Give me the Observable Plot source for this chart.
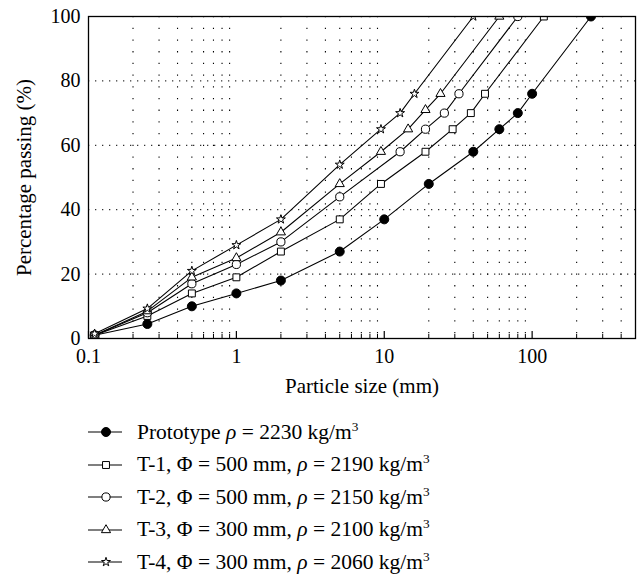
<!DOCTYPE html>
<html><head><meta charset="utf-8">
<script src="https://cdn.jsdelivr.net/npm/d3@7"></script>
<script src="https://cdn.jsdelivr.net/npm/@observablehq/plot@0.6"></script>
<style>
body{margin:0;background:#fff;font-family:"Liberation Serif","Times New Roman",Times,serif;}
#chart svg, #chart svg text{font-family:"Liberation Serif","Times New Roman",Times,serif !important;}
#legend{padding-top:16px;}
.row{display:flex;align-items:center;height:32.5px;margin-left:88px;font-size:21.5px;color:#000;white-space:nowrap;}
.row svg{flex:none;margin-right:15px;}
sup{font-size:0.62em;line-height:0;vertical-align:0.62em;}
</style></head><body><div id="chart"></div><div id="legend"></div>
<script>
// Series
const seriesNames = ["Prototype", "T-1", "T-2", "T-3", "T-4"];
const legendLabels = [
  "Prototype <i>ρ</i> = 2230 kg/m<sup>3</sup>",
  "T-1, Φ = 500 mm, <i>ρ</i> = 2190 kg/m<sup>3</sup>",
  "T-2, Φ = 500 mm, <i>ρ</i> = 2150 kg/m<sup>3</sup>",
  "T-3, Φ = 300 mm, <i>ρ</i> = 2100 kg/m<sup>3</sup>",
  "T-4, Φ = 300 mm, <i>ρ</i> = 2060 kg/m<sup>3</sup>"
];
const symbols = ["circle", "square", "circle", "triangle", "star"];
const fills = ["#000", "#fff", "#fff", "#fff", "#fff"];
const radii = [4.5, 3.9, 4.1, 3.4, 2.8];

// Particle sizes (mm) and percentage passing (%)
const protoSize = [0.11, 0.25, 0.5, 1, 2, 5, 10, 20, 40, 60, 80, 100, 250];
const protoPass = [1, 4.5, 10, 14, 18, 27, 37, 48, 58, 65, 70, 76, 100];
const t1Size = [0.11, 0.25, 0.5, 1, 2, 5, 9.5, 19, 29, 38.5, 48, 120];
const t1Pass = [1, 7, 14, 19, 27, 37, 48, 58, 65, 70, 76, 100];
const t2Size = [0.11, 0.25, 0.5, 1, 2, 5, 12.8, 19, 25.5, 32, 80];
const t2Pass = [1, 8, 17, 23, 30, 44, 58, 65, 70, 76, 100];
const t3Size = [0.11, 0.25, 0.5, 1, 2, 5, 9.5, 14.5, 19, 24, 60];
const t3Pass = [1, 8.5, 19, 25, 33, 48, 58, 65, 71, 76, 100];
const t4Size = [0.11, 0.25, 0.5, 1, 2, 5, 9.5, 12.8, 16, 40];
const t4Pass = [1.5, 9.3, 21, 29, 37, 54, 65, 70, 76, 100];

// Ticks
const majorTicks = [0.1, 1, 10, 100];
const minorTicks = [0.2,0.3,0.4,0.5,0.6,0.7,0.8,0.9, 2,3,4,5,6,7,8,9, 20,30,40,50,60,70,80,90, 200,300,400];
const yTicks = [0, 20, 40, 60, 80, 100];
const yGrid = [20, 40, 60, 80];

const sizes = [protoSize, t1Size, t2Size, t3Size, t4Size];
const passes = [protoPass, t1Pass, t2Pass, t3Pass, t4Pass];
const rows = [];
seriesNames.forEach((s, i) => sizes[i].forEach((x, j) => rows.push({series: s, size: x, passing: passes[i][j]})));

const dotMarks = seriesNames.map((s, i) => Plot.dot(rows.filter(d => d.series === s), {
  x: "size", y: "passing", symbol: () => symbols[i], r: radii[i],
  fill: fills[i], stroke: "#000", strokeWidth: 1, clip: true
}));

const serif = "'Liberation Serif', 'Times New Roman', Times, serif";
const chart = Plot.plot({
  width: 638, height: 400,
  marginTop: 16, marginBottom: 62, marginLeft: 88, marginRight: 3,
  style: `font-family: ${serif}; font-size: 20px; color: #000; background: #fff;`,
  x: {type: "log", domain: [0.1, 500]},
  y: {domain: [0, 100]},
  symbol: {type: "identity"},
  marks: [
    Plot.ruleX(minorTicks, {stroke: "#000", strokeWidth: 1.1, strokeDasharray: "1.3,10.4"}),
    Plot.ruleY(yGrid, {stroke: "#000", strokeWidth: 1, strokeDasharray: "1.3,5.7"}),
    Plot.tickX(majorTicks, {x: d => d, stroke: "#000", strokeWidth: 1.2, insetTop: 315}),
    Plot.tickX(minorTicks, {x: d => d, stroke: "#000", strokeWidth: 1, insetTop: 318}),
    Plot.axisX({ticks: majorTicks, tickSize: 0, tickPadding: 10, tickFormat: d => String(d), fontSize: 20, fontFamily: serif, label: null}),
    Plot.axisX({ticks: [], tickSize: 0, fontSize: 21, fontFamily: serif,
      label: "Particle size (mm)", labelAnchor: "center", labelArrow: "none", labelOffset: 54}),
    Plot.axisY({ticks: yTicks, tickSize: 0, tickPadding: 8, fontSize: 20, fontFamily: serif, label: null}),
    Plot.axisY({ticks: [], tickSize: 0, fontSize: 21, fontFamily: serif,
      label: "Percentage passing (%)", labelAnchor: "center", labelArrow: "none", labelOffset: 72}),
    Plot.line(rows, {x: "size", y: "passing", z: "series", stroke: "#000", strokeWidth: 1.1, clip: true}),
    ...dotMarks,
    Plot.frame({stroke: "#000", strokeWidth: 1.3})
  ]
});
document.getElementById("chart").appendChild(chart);

// Legend
const symMap = {circle: d3.symbolCircle, square: d3.symbolSquare, triangle: d3.symbolTriangle, star: d3.symbolStar};
const legend = d3.select("#legend");
seriesNames.forEach((s, i) => {
  const row = legend.append("div").attr("class", "row");
  const svg = row.append("svg").attr("width", 34).attr("height", 16);
  svg.append("line").attr("x1", 0).attr("x2", 34).attr("y1", 8).attr("y2", 8).attr("stroke", "#000").attr("stroke-width", 1.1);
  svg.append("path").attr("transform", "translate(18,8)")
    .attr("d", d3.symbol(symMap[symbols[i]], Math.PI * radii[i] * radii[i])())
    .attr("fill", fills[i]).attr("stroke", "#000").attr("stroke-width", 1);
  row.append("span").html(legendLabels[i]);
});
</script>
</body></html>
